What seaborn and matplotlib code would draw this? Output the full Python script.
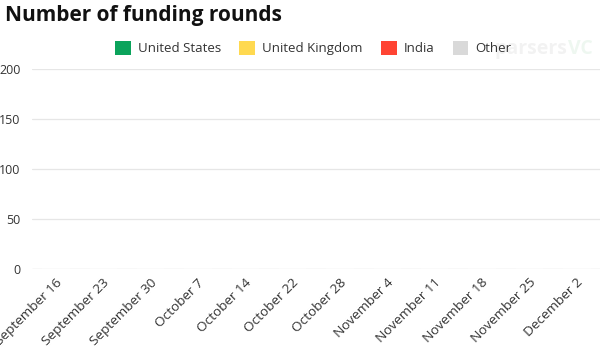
import matplotlib
matplotlib.use("Agg")
import matplotlib.pyplot as plt
from matplotlib.patches import Patch
import seaborn as sns
import pandas as pd
import numpy as np

weeks = ["September 16", "September 23", "September 30", "October 7", "October 14",
         "October 22", "October 28", "November 4", "November 11", "November 18",
         "November 25", "December 2"]
united_states = [0, 0, 0, 0, 0, 0, 0, 0, 0, 0, 0, 0]
united_kingdom = [0, 0, 0, 0, 0, 0, 0, 0, 0, 0, 0, 0]
india = [0, 0, 0, 0, 0, 0, 0, 0, 0, 0, 0, 0]
other = [0, 0, 0, 0, 0, 0, 0, 0, 0, 0, 0, 0]
series_names = ["United States", "United Kingdom", "India", "Other"]
series_colors = ["#0ba35b", "#ffd950", "#ff4433", "#d9d9d9"]
y_ticks = [0, 50, 100, 150, 200]

sns.set_theme(style="white")
plt.rcParams['font.family'] = ['Open Sans', 'DejaVu Sans']

fig = plt.figure(figsize=(6, 3.5), dpi=100)
ax = fig.add_axes([0.053, 0.231, 0.947, 0.572])

df = pd.DataFrame({"week": weeks, "United States": united_states,
                   "United Kingdom": united_kingdom, "India": india, "Other": other})
bottom = np.zeros(len(weeks))
for name, col in zip(series_names, series_colors):
    sns.barplot(data=df.assign(v=df[name] + bottom), x="week", y="v", color=col,
                ax=ax, width=0.6, order=weeks, zorder=3, saturation=1)
    bottom = bottom + df[name].values

ax.set_ylim(0, 200)
ax.set_yticks(y_ticks)
ax.set_yticklabels([str(t) for t in y_ticks], fontsize=9, color="#333333")
ax.set_xlim(-0.5, len(weeks) - 0.5)
ax.set_xlabel("")
ax.set_ylabel("")
ax.set_xticks(range(len(weeks)))
ax.set_xticklabels(weeks, rotation=45, ha="right", rotation_mode="anchor",
                   fontsize=9.7, color="#333333")
ax.tick_params(axis="x", length=0, pad=5)
ax.tick_params(axis="y", length=0, pad=8)
for t in y_ticks:
    ax.axhline(t, color="#cccccc" if t == 0 else "#e6e6e6", lw=0.9, zorder=1)
for s in ax.spines.values():
    s.set_visible(False)

handles = [Patch(facecolor=c, edgecolor="none", label=n) for n, c in zip(series_names, series_colors)]
fig.legend(handles=handles, loc="center", bbox_to_anchor=(0.522, 0.862), ncol=4,
           frameon=False, fontsize=9.5, handlelength=1.2, handleheight=1.2,
           handletextpad=0.5, columnspacing=1.4, labelcolor="#333333")

fig.text(0.008, 0.955, "Number of funding rounds", fontsize=15, fontweight="bold",
         color="#111111", ha="left", va="center")
fig.text(0.885, 0.86, "parsers", fontsize=14, fontweight="bold", color="#000000",
         alpha=0.05, ha="center", va="center")
fig.text(0.968, 0.86, "VC", fontsize=14, fontweight="bold", color="#2a9a4a",
         alpha=0.08, ha="center", va="center")

fig.savefig("out.png", dpi=100, facecolor="white")
